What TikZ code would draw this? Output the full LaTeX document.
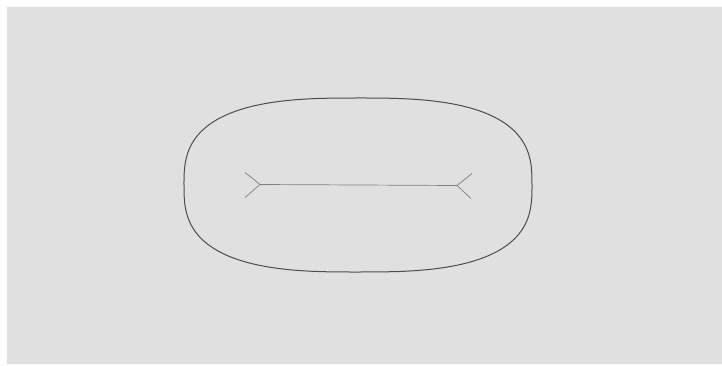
\documentclass[tikz,border=0pt]{standalone}
\begin{document}
\begin{tikzpicture}[x=1pt,y=-1pt,
  oval/.style={draw=black!70,line width=1pt},
  wire/.style={draw=black!50,line width=0.7pt}]
\useasboundingbox (0,0) rectangle (722,366);
\fill[white] (0,0) rectangle (722,366);
\fill[black!12] (7,7) rectangle (722,364);
\coordinate (C) at (358,185);
\draw[oval] plot[domain=0.5:360.5,samples=181,smooth cycle]
  ({358+174*sign(cos(\x))*abs(cos(\x))^(0.71)},{185+87*sign(sin(\x))*abs(sin(\x))^(0.71)});
\coordinate (L) at (260,184.5);
\coordinate (R) at (457,185.5);
\draw[wire] (L) -- (R);
\draw[wire] (L) -- ++(-15,-12);
\draw[wire] (L) -- ++(-15,13);
\draw[wire] (R) -- ++(15,-12);
\draw[wire] (R) -- ++(14,13);
\end{tikzpicture}
\end{document}
